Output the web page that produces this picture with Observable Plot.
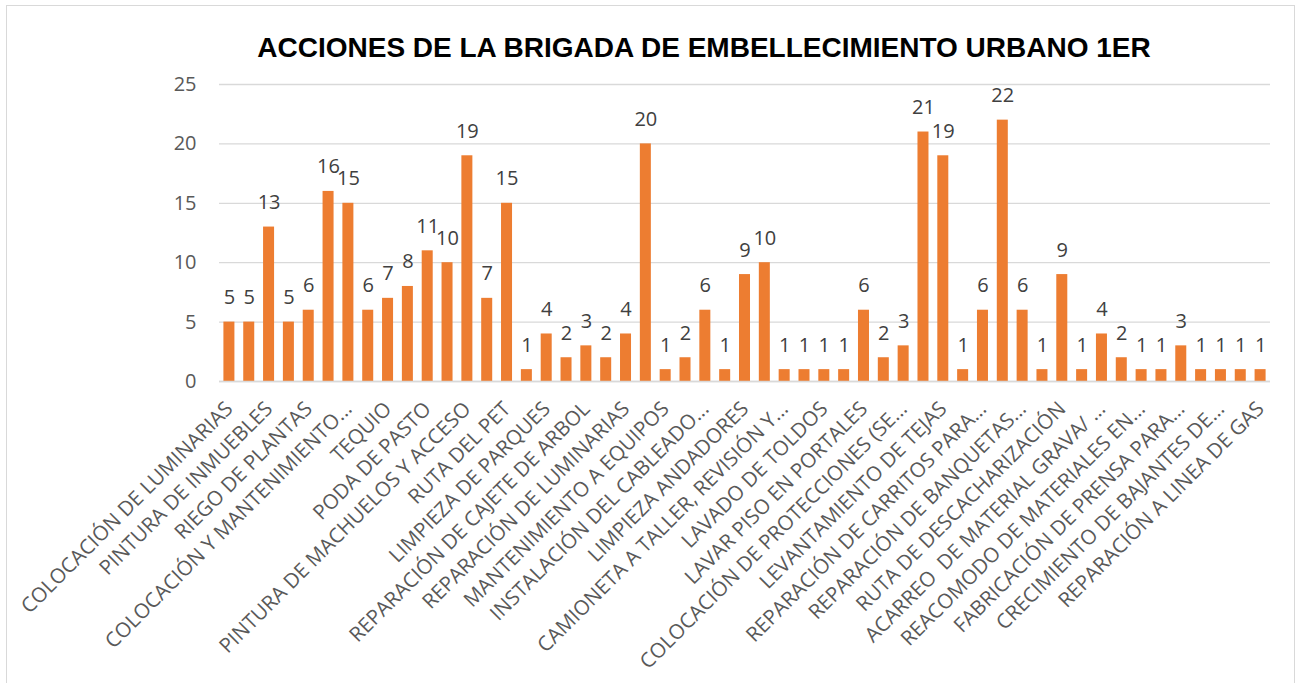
<!DOCTYPE html>
<html><head><meta charset="utf-8">
<script src="https://cdn.jsdelivr.net/npm/d3@7"></script>
<script src="https://cdn.jsdelivr.net/npm/@observablehq/plot@0.6"></script>
<style>
body{margin:0;background:#fff;}
#frame{position:absolute;left:6px;top:5px;width:1289px;height:720px;border:1.5px solid #d9d9d9;box-sizing:border-box;}
#chart{position:absolute;left:0;top:0;}
</style></head><body>
<div id="frame"></div><div id="chart"></div>
<script>
const title = "ACCIONES DE LA BRIGADA DE EMBELLECIMIENTO URBANO 1ER";
const tickLabels = [
  "COLOCACIÓN DE LUMINARIAS", "PINTURA DE INMUEBLES", "RIEGO DE PLANTAS",
  "COLOCACIÓN Y MANTENIMIENTO...", "TEQUIO", "PODA DE PASTO",
  "PINTURA DE MACHUELOS Y ACCESO", "RUTA DEL PET", "LIMPIEZA DE PARQUES",
  "REPARACIÓN DE CAJETE DE ARBOL", "REPARACIÓN DE LUMINARIAS", "MANTENIMIENTO A EQUIPOS",
  "INSTALACIÓN DEL CABLEADO...", "LIMPIEZA ANDADORES", "CAMIONETA A TALLER, REVISIÓN Y...",
  "LAVADO DE TOLDOS", "LAVAR PISO EN PORTALES", "COLOCACIÓN DE PROTECCIONES (SE...",
  "LEVANTAMIENTO DE TEJAS", "REPARACIÓN DE CARRITOS PARA...", "REPARACIÓN DE BANQUETAS...",
  "RUTA DE DESCACHARIZACIÓN", "ACARREO  DE MATERIAL GRAVA/ ...", "REACOMODO DE MATERIALES EN...",
  "FABRICACIÓN DE PRENSA PARA...", "CRECIMIENTO DE BAJANTES DE...", "REPARACIÓN A LINEA DE GAS"
];
const values = [
  5, 5, 13, 5, 6, 16, 15, 6, 7, 8, 11, 10, 19, 7, 15, 1, 4,
  2, 3, 2, 4, 20, 1, 2, 6, 1, 9, 10, 1, 1, 1, 1, 6, 2, 3,
  21, 19, 1, 6, 22, 6, 1, 9, 1, 4, 2, 1, 1, 3, 1, 1, 1, 1
];
const yTicks = [0, 5, 10, 15, 20, 25];

const data = values.map((v, i) => ({i, v}));
const labelIdx = d3.range(0, values.length, 2);

const plot = Plot.plot({
  width: 1298, height: 683,
  marginLeft: 219, marginRight: 28, marginTop: 84, marginBottom: 302,
  style: {fontFamily: "'Open Sans', sans-serif", background: "transparent", overflow: "visible"},
  x: {domain: d3.range(values.length), paddingInner: 0.445, paddingOuter: 0.222, axis: null, label: null},
  y: {domain: [0, 25], axis: null, label: null},
  marks: [
    Plot.gridY(yTicks, {stroke: "#d9d9d9", strokeOpacity: 1, strokeWidth: 1.3}),
    Plot.axisY(yTicks, {tickSize: 0, tickPadding: 23, fontSize: 20, fill: "#595959", tickFormat: d => d, label: null}),
    Plot.barY(data, {x: "i", y: "v", fill: "#ED7D31"}),
    Plot.ruleY([0], {stroke: "#d9d9d9", strokeWidth: 1.3}),
    Plot.text(data, {x: "i", y: "v", text: "v", dy: -18, lineAnchor: "bottom", fontSize: 20, fill: "#404040"}),
    Plot.axisX(labelIdx, {tickSize: 0, tickPadding: 24, tickRotate: -45, fontSize: 20.5, fill: "#595959",
      tickFormat: i => tickLabels[i / 2], label: null}),
    Plot.text([title], {text: d => d, frameAnchor: "top", dx: -41, dy: -28, lineAnchor: "bottom",
      fontSize: 28, fontWeight: "bold", fontFamily: "'Liberation Sans', Arial, sans-serif", fill: "#000"})
  ]
});
document.getElementById("chart").appendChild(plot);
</script>
</body></html>
